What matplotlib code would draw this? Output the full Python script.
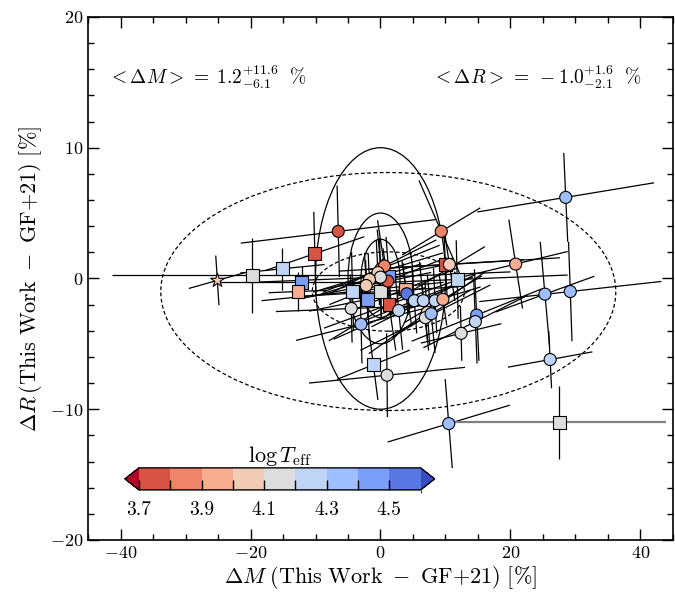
import numpy as np
import matplotlib
matplotlib.use("Agg")
import matplotlib.pyplot as plt
from matplotlib.collections import LineCollection
from matplotlib.colors import BoundaryNorm
from matplotlib.patches import Ellipse

plt.rcParams.update({
    "font.family": "serif",
    "font.serif": ["cmr10"],
    "mathtext.fontset": "cm",
    "axes.formatter.use_mathtext": True,
    "axes.unicode_minus": True,
})

# mass / radius offsets [%], log Teff, marker, and error arms
# ex/ey: half-length of the M and R arms, sx: dR/dM slope of M arm, ty: dM/dR tilt of R arm
dm = [-25.1, -19.7, -15.1, -12.1, -12.7, -10.1, -6.5, 9.35, 10.0, 10.6,
      11.8, 0.1, 0.6, -0.4, 1.3, 1.13, 0.0, -1.7, -2.2, -4.3,
      0.0, -2.0, 1.3, 3.85, 4.05, 5.2, 6.6, 8.4, 9.6, 2.8,
      -4.5, -3.0, 7.2, 6.9, 7.8, 12.4, -1.1, 1.0, 28.5, 20.8,
      25.3, 29.2, 26.1, 10.5, 27.5, 14.8, 14.6]
dr = [-0.15, 0.23, 0.74, -0.28, -1.0, 1.9, 3.6, 3.6, 1.07, 1.07,
      -0.08, 0.74, 0.95, 0.45, 0.18, -0.2, 0.1, -0.08, -0.54, -1.0,
      -1.0, -1.6, -2.0, -0.8, -1.17, -1.7, -1.7, -1.7, -1.6, -2.45,
      -2.3, -3.5, -2.6, -3.0, -2.7, -4.2, -6.6, -7.4, 6.2, 1.1,
      -1.2, -1.0, -6.2, -11.1, -11.0, -2.8, -3.3]
logteff = [4.05, 4.15, 4.25, 4.45, 3.95, 3.75, 3.75, 3.85, 3.75, 4.05,
           4.25, 3.95, 3.85, 4.05, 4.45, 3.75, 4.15, 4.05, 4.05, 4.25,
           4.15, 4.45, 3.75, 3.95, 4.55, 4.25, 4.25, 4.25, 3.95, 4.25,
           4.15, 4.35, 4.05, 4.15, 4.35, 4.15, 4.25, 4.15, 4.35, 3.95,
           4.35, 4.35, 4.25, 4.35, 4.15, 4.45, 4.25]
marker = ["*", "s", "s", "s", "s", "s", "o", "o", "s", "o",
          "s", "o", "o", "o", "s", "o", "o", "o", "o", "s",
          "s", "s", "s", "s", "o", "o", "o", "o", "o", "o",
          "o", "o", "o", "o", "o", "o", "s", "o", "o", "o",
          "o", "o", "o", "o", "s", "o", "o"]
ex = [4.4, 21.6, 6.5, 13.2, 4.5, 7.6, 15.0, 6.0, 12.0, 17.0,
      17.0, 9.0, 8.0, 10.0, 10.0, 9.0, 20.0, 8.0, 10.0, 14.0,
      12.0, 9.0, 10.0, 8.0, 12.0, 9.0, 8.0, 7.0, 6.0, 10.0,
      11.6, 10.0, 9.0, 10.0, 6.0, 6.2, 5.6, 12.0, 13.6, 8.0,
      7.6, 14.0, 6.5, 9.4, 16.5, 10.0, 8.0]
sx = [0.14, 0.0, 0.05, 0.0, 0.02, 0.17, 0.06, 0.3, 0.03, 0.03,
      0.02, 0.2, 0.25, 0.15, 0.1, 0.2, 0.02, 0.15, 0.1, 0.05,
      0.03, 0.1, 0.18, 0.2, 0.3, 0.2, 0.25, 0.15, 0.3, 0.22,
      0.02, 0.124, 0.35, 0.25, 0.3, 0.12, 0.2, 0.05, 0.082, 0.12,
      0.18, 0.055, 0.09, 0.15, 0.0, 0.2, 0.25]
ey = [1.9, 2.9, 1.6, 1.2, 1.5, 3.2, 3.5, 3.9, 2.5, 2.8,
      3.0, 3.0, 3.5, 2.5, 3.0, 2.5, 3.0, 2.0, 2.5, 3.0,
      2.0, 3.0, 3.5, 2.0, 2.5, 2.5, 3.0, 2.5, 2.0, 3.0,
      2.6, 3.0, 2.5, 2.5, 3.0, 2.1, 2.7, 3.2, 3.4, 3.4,
      4.0, 3.8, 2.2, 3.4, 2.8, 3.5, 3.2]
ty = [-0.13, 0.0, 0.0, 0.0, 0.0, -0.05, -0.05, -0.88, -0.1, -0.3,
      -0.05, -0.2, -0.3, -0.1, -0.15, -0.3, -0.05, -0.1, -0.1, -0.05,
      -0.05, -0.1, -0.3, -0.2, -0.3, -0.15, -0.2, -0.1, -0.3, -0.2,
      -0.05, -0.05, -0.15, -0.2, -0.2, -0.05, -0.26, -0.02, -0.09, -0.31,
      -0.18, -0.07, -0.1, -0.16, 0.0, -0.1, -0.08]

mean_dm, mean_dr = 1.2, -1.0
circle_radii = [3, 5, 10]
spread_axes = [(11.7, 3.03), (35.0, 9.1)]

teff_bounds = np.round(np.arange(3.7, 4.61, 0.1), 1)

fig = plt.figure(figsize=(6.75, 5.96), dpi=100)
ax = fig.add_axes([0.1304, 0.094, 0.8666, 0.8776])

for r in circle_radii:
    ax.add_patch(Ellipse((0, 0), 2 * r, 2 * r, fill=False, ec="k", lw=0.9, zorder=1))
for a, b in spread_axes:
    ax.add_patch(Ellipse((mean_dm, mean_dr), 2 * a, 2 * b, fill=False, ec="k",
                         lw=0.9, ls=(0, (3, 2)), zorder=1))

x = np.array(dm); y = np.array(dr)
ex_a = np.array(ex); sx_a = np.array(sx); ey_a = np.array(ey); ty_a = np.array(ty)
m_arms = np.stack([np.c_[x - ex_a, y - ex_a * sx_a], np.c_[x + ex_a, y + ex_a * sx_a]], axis=1)
r_arms = np.stack([np.c_[x - ty_a * ey_a, y - ey_a], np.c_[x + ty_a * ey_a, y + ey_a]], axis=1)
# square at the lower right carries a grey mass arm
m_col = ["0.5" if (mk == "s" and yy < -10) else "k" for mk, yy in zip(marker, dr)]
m_lw = [1.6 if c == "0.5" else 0.9 for c in m_col]
ax.add_collection(LineCollection(m_arms, colors=m_col, linewidths=m_lw, zorder=2))
ax.add_collection(LineCollection(r_arms, colors="k", linewidths=0.9, zorder=2))

cmap = plt.get_cmap("coolwarm_r", len(teff_bounds) + 1)
norm = BoundaryNorm(teff_bounds, cmap.N, extend="both")
sizes = {"o": 75, "s": 85, "*": 110}
for mk in ["s", "o", "*"]:
    idx = [i for i, m in enumerate(marker) if m == mk]
    ax.scatter(x[idx], y[idx], c=np.array(logteff)[idx], cmap=cmap, norm=norm,
               marker=mk, s=sizes[mk], edgecolors="k", linewidths=0.8, zorder=3)

ax.set_xlim(-45, 45)
ax.set_ylim(-20, 20)
ax.set_xticks([-40, -20, 0, 20, 40])
ax.set_yticks([-20, -10, 0, 10, 20])
ax.set_xticks(np.arange(-45, 46, 5), minor=True)
ax.set_yticks(np.arange(-20, 21, 2), minor=True)
ax.tick_params(which="both", direction="in", top=True, right=True, labelsize=13, width=1)
ax.tick_params(which="major", length=8)
ax.tick_params(which="minor", length=4)
for s in ax.spines.values():
    s.set_linewidth(1.2)

ax.set_xlabel(r"$\Delta M\;(\mathrm{This\ Work}\ -\ \mathrm{GF{+}21})\ [\%]$", fontsize=16, labelpad=2)
ax.set_ylabel(r"$\Delta R\,(\mathrm{This\ Work}\ -\ \mathrm{GF{+}21})\ [\%]$", fontsize=16, labelpad=4)

ax.text(-42, 15.4, r"$<\Delta M>\,=\;1.2^{+11.6}_{-6.1}\ \ \%$", fontsize=14, va="center")
ax.text(8, 15.4, r"$<\Delta R>\,=\;-1.0^{+1.6}_{-2.1}\ \ \%$", fontsize=14, va="center")

cax = fig.add_axes([0.185, 0.178, 0.459, 0.037])
sm = plt.cm.ScalarMappable(norm=norm, cmap=cmap)
cb = fig.colorbar(sm, cax=cax, orientation="horizontal", extend="both",
                  ticks=teff_bounds[:-1])
cb.ax.set_xticklabels([f"{v:.1f}" if i % 2 == 0 else "" for i, v in enumerate(teff_bounds[:-1])])
cb.ax.tick_params(direction="in", length=7, width=1, labelsize=14, pad=8)
cb.outline.set_linewidth(1)
cax.set_title(r"$\log T_{\rm eff}$", fontsize=16, pad=3)

fig.savefig("out.png", dpi=100)
